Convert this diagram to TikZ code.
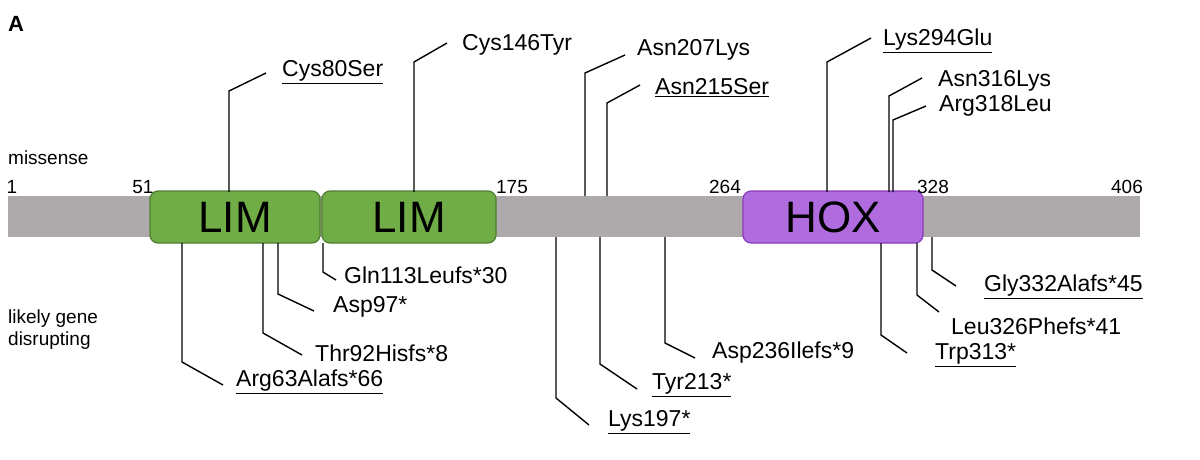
\documentclass[tikz,border=0pt]{standalone}
\usepackage{fontspec}
\setmainfont{Liberation Sans}
\definecolor{bargray}{HTML}{AEAAAB}
\definecolor{limfill}{HTML}{70AD47}
\definecolor{limdraw}{HTML}{507E32}
\definecolor{hoxfill}{HTML}{B06CDE}
\definecolor{hoxdraw}{HTML}{8A3CBE}
\begin{document}
\begin{tikzpicture}[x=1pt,y=-1pt,
  lab/.style={anchor=west,inner sep=0pt,font=\fontsize{23}{26}\selectfont},
  num/.style={anchor=south,inner sep=0pt,font=\fontsize{19}{22}\selectfont},
  lead/.style={line width=1.4pt},
  dom/.style={rounded corners=8pt,line width=1.2pt,font=\fontsize{44}{48}\selectfont}]
\useasboundingbox (0,0) rectangle (1200,459);
\node[anchor=west,inner sep=0pt,font=\fontsize{22}{24}\selectfont\bfseries] (A) at (8,24) {A};
\fill[bargray] (8,196) rectangle (1140,237);
\node[dom,draw=limdraw,fill=limfill,minimum width=170pt,minimum height=52pt] (lim1) at (235,217) {LIM};
\node[dom,draw=limdraw,fill=limfill,minimum width=174pt,minimum height=52pt] (lim2) at (409,217) {LIM};
\node[dom,draw=hoxdraw,fill=hoxfill,minimum width=180pt,minimum height=52pt] (hox) at (833,217) {HOX};
\node[lab,font=\fontsize{19}{22}\selectfont] (mis) at (8,158) {missense};
\node[lab,font=\fontsize{19}{22}\selectfont,align=left] (lgd) at (8,330) {likely gene\\disrupting};
\node[num] (n1) at (12,194) {1};
\node[num] (n51) at (143,194) {51};
\node[num] (n175) at (512,194) {175};
\node[num] (n264) at (725,194) {264};
\node[num] (n328) at (933,194) {328};
\node[num] (n406) at (1127,194) {406};
% missense
\node[lab] (c80) at (282,72) {\underline{Cys80Ser}};
\draw[lead] (229,192)--(229,91)--(266,73);
\node[lab] (c146) at (462,45) {Cys146Tyr};
\draw[lead] (414,192)--(414,62)--(447,43);
\node[lab] (a207) at (637,50) {Asn207Lys};
\draw[lead] (585,196)--(585,73)--(625,55);
\node[lab] (a215) at (655,88) {\underline{Asn215Ser}};
\draw[lead] (607,196)--(607,103)--(640,85);
\node[lab] (l294) at (883,41) {\underline{Lys294Glu}};
\draw[lead] (827,192)--(827,62)--(871,38);
\node[lab] (a316) at (938,81) {Asn316Lys};
\draw[lead] (889,192)--(889,96)--(922,78);
\node[lab] (a318) at (939,106) {Arg318Leu};
\draw[lead] (893,192)--(893,120)--(926,106);
% lgd
\node[lab] (r63) at (236,382) {\underline{Arg63Alafs*66}};
\draw[lead] (182,243)--(182,362)--(223,385);
\node[lab] (t92) at (315,353) {Thr92Hisfs*8};
\draw[lead] (263,243)--(263,333)--(302,355);
\node[lab] (d97) at (333,307) {Asp97*};
\draw[lead] (278,243)--(278,294)--(314,311);
\node[lab] (g113) at (344,275) {Gln113Leufs*30};
\draw[lead] (323,243)--(323,272)--(336,280);
\node[lab] (k197) at (608,422) {\underline{Lys197*}};
\draw[lead] (556,237)--(556,398)--(589,425);
\node[lab] (y213) at (652,385) {\underline{Tyr213*}};
\draw[lead] (600,237)--(600,364)--(637,389);
\node[lab] (d236) at (712,353) {Asp236Ilefs*9};
\draw[lead] (665,237)--(665,343)--(695,358);
\node[lab] (w313) at (935,355) {\underline{Trp313*}};
\draw[lead] (881,243)--(881,335)--(907,353);
\node[lab] (l326) at (951,326) {Leu326Phefs*41};
\draw[lead] (917,243)--(917,295)--(939,312);
\node[lab] (g332) at (984,287) {\underline{Gly332Alafs*45}};
\draw[lead] (932,237)--(932,270)--(956,286);
\end{tikzpicture}
\end{document}
